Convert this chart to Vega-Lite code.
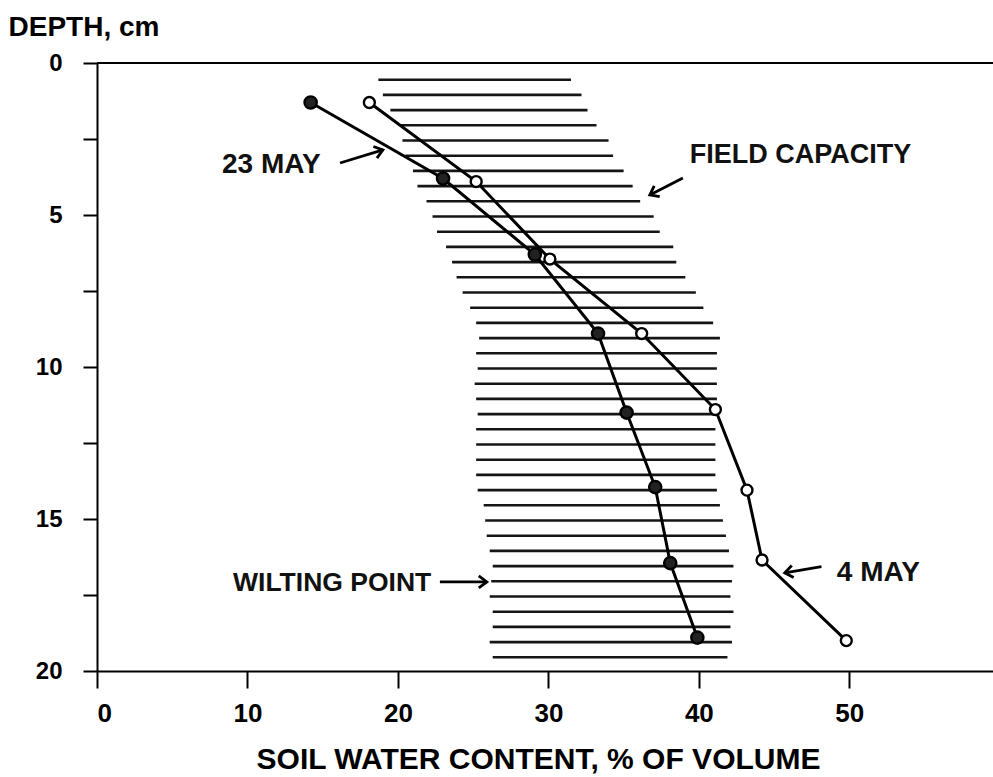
{
  "$schema": "https://vega.github.io/schema/vega-lite/v6.json",
  "autosize": {"type": "none"},
  "padding": {"left": 97, "top": 63, "right": 0, "bottom": 106},
  "width": 896,
  "height": 608,
  "background": "white",
  "config": {
    "view": {"stroke": null},
    "font": "Liberation Sans",
    "axis": {"domainColor": "black", "domainWidth": 2, "tickColor": "black", "tickWidth": 2, "grid": false, "labelColor": "black", "titleColor": "black", "labelFont": "Liberation Sans", "titleFont": "Liberation Sans", "labelFontWeight": "bold", "titleFontWeight": "bold"}
  },
  "datasets": {
    "band": [
      {"depth": 0.55, "wp": 18.7, "fc": 31.5},
      {"depth": 1.05, "wp": 19.0, "fc": 32.2},
      {"depth": 1.55, "wp": 19.5, "fc": 32.6},
      {"depth": 2.05, "wp": 20.2, "fc": 33.2},
      {"depth": 2.55, "wp": 20.3, "fc": 34.0},
      {"depth": 3.05, "wp": 20.5, "fc": 34.3},
      {"depth": 3.55, "wp": 21.0, "fc": 35.0},
      {"depth": 4.05, "wp": 21.3, "fc": 35.6},
      {"depth": 4.55, "wp": 21.9, "fc": 36.1},
      {"depth": 5.05, "wp": 22.3, "fc": 37.0},
      {"depth": 5.55, "wp": 22.6, "fc": 37.4},
      {"depth": 6.05, "wp": 23.2, "fc": 38.3},
      {"depth": 6.55, "wp": 23.6, "fc": 38.5},
      {"depth": 7.05, "wp": 23.9, "fc": 39.1},
      {"depth": 7.55, "wp": 24.3, "fc": 39.8},
      {"depth": 8.05, "wp": 24.8, "fc": 40.3},
      {"depth": 8.55, "wp": 25.2, "fc": 40.95},
      {"depth": 9.05, "wp": 25.4, "fc": 41.4},
      {"depth": 9.55, "wp": 25.2, "fc": 41.2},
      {"depth": 10.05, "wp": 25.3, "fc": 41.2},
      {"depth": 10.55, "wp": 25.1, "fc": 41.2},
      {"depth": 11.05, "wp": 25.2, "fc": 41.2},
      {"depth": 11.55, "wp": 25.3, "fc": 40.95},
      {"depth": 12.05, "wp": 25.2, "fc": 41.1},
      {"depth": 12.55, "wp": 25.2, "fc": 41.1},
      {"depth": 13.05, "wp": 25.2, "fc": 41.1},
      {"depth": 13.55, "wp": 25.2, "fc": 41.1},
      {"depth": 14.05, "wp": 25.3, "fc": 41.2},
      {"depth": 14.55, "wp": 25.7, "fc": 41.4},
      {"depth": 15.05, "wp": 25.8, "fc": 41.6},
      {"depth": 15.55, "wp": 25.9, "fc": 41.8},
      {"depth": 16.05, "wp": 26.1, "fc": 42.0},
      {"depth": 16.55, "wp": 26.3, "fc": 42.3},
      {"depth": 17.05, "wp": 26.2, "fc": 42.2},
      {"depth": 17.55, "wp": 26.1, "fc": 42.1},
      {"depth": 18.05, "wp": 26.3, "fc": 42.3},
      {"depth": 18.55, "wp": 26.3, "fc": 42.1},
      {"depth": 19.05, "wp": 26.1, "fc": 42.2},
      {"depth": 19.55, "wp": 26.3, "fc": 41.9}
    ],
    "profiles": [
      {"date": "23 May", "depth": 1.3, "swc": 14.2},
      {"date": "23 May", "depth": 3.8, "swc": 23.0},
      {"date": "23 May", "depth": 6.3, "swc": 29.1},
      {"date": "23 May", "depth": 8.9, "swc": 33.3},
      {"date": "23 May", "depth": 11.5, "swc": 35.2},
      {"date": "23 May", "depth": 13.95, "swc": 37.1},
      {"date": "23 May", "depth": 16.45, "swc": 38.1},
      {"date": "23 May", "depth": 18.9, "swc": 39.9},
      {"date": "4 May", "depth": 1.3, "swc": 18.1},
      {"date": "4 May", "depth": 3.9, "swc": 25.2},
      {"date": "4 May", "depth": 6.45, "swc": 30.1},
      {"date": "4 May", "depth": 8.9, "swc": 36.2},
      {"date": "4 May", "depth": 11.4, "swc": 41.1},
      {"date": "4 May", "depth": 14.05, "swc": 43.2},
      {"date": "4 May", "depth": 16.35, "swc": 44.2},
      {"date": "4 May", "depth": 19.0, "swc": 49.8}
    ],
    "arrows": [
      {"name": "23 MAY", "x1": 16.15, "y1": 3.29, "x2": 19.0, "y2": 2.86, "angle": 343},
      {"name": "FIELD CAPACITY", "x1": 38.94, "y1": 3.78, "x2": 36.74, "y2": 4.34, "angle": 153},
      {"name": "WILTING POINT", "x1": 22.79, "y1": 17.07, "x2": 25.91, "y2": 17.07, "angle": 0},
      {"name": "4 MAY", "x1": 48.15, "y1": 16.57, "x2": 45.71, "y2": 16.77, "angle": 171}
    ],
    "labels": [
      {"text": "23 MAY", "x": 8.31, "y": 3.36, "size": 28},
      {"text": "FIELD CAPACITY", "x": 39.4, "y": 3.03, "size": 27},
      {"text": "WILTING POINT", "x": 9.04, "y": 17.1, "size": 26.5},
      {"text": "4 MAY", "x": 49.17, "y": 16.76, "size": 28}
    ],
    "frame": [{"depth": 0}]
  },
  "layer": [
    {
      "data": {"name": "band"},
      "mark": {"type": "rule", "color": "#151515", "strokeWidth": 2.6},
      "encoding": {
        "x": {"field": "wp", "type": "quantitative", "scale": {"domain": [0, 59.55], "nice": false, "zero": false},
          "axis": {"values": [0, 10, 20, 30, 40, 50], "tickSize": 17, "labelPadding": 12, "labelFontSize": 26,
            "title": "SOIL WATER CONTENT,  % OF VOLUME", "titleFontSize": 30, "titleX": 441, "titleY": 97, "titleBaseline": "alphabetic", "titleAnchor": null, "titleAlign": "center"}},
        "x2": {"field": "fc"},
        "y": {"field": "depth", "type": "quantitative", "scale": {"domain": [0, 20], "reverse": true, "nice": false},
          "axis": {"values": [0, 2.5, 5, 7.5, 10, 12.5, 15, 17.5, 20], "labelExpr": "datum.value % 5 === 0 ? datum.label : ''", "tickSize": 14, "labelPadding": 21, "labelFontSize": 24,
            "title": "DEPTH, cm", "titleFontSize": 28, "titleAngle": 0, "titleAlign": "left", "titleBaseline": "alphabetic", "titleX": -89, "titleY": -28, "titleAnchor": null}}
      }
    },
    {
      "data": {"name": "frame"},
      "mark": {"type": "rule", "color": "black", "strokeWidth": 2},
      "encoding": {"y": {"field": "depth", "type": "quantitative"}}
    },
    {
      "data": {"name": "profiles"},
      "mark": {"type": "line", "color": "black", "strokeWidth": 3},
      "encoding": {
        "x": {"field": "swc", "type": "quantitative"},
        "y": {"field": "depth", "type": "quantitative"},
        "detail": {"field": "date"},
        "order": {"field": "depth", "type": "quantitative"}
      }
    },
    {
      "data": {"name": "profiles"},
      "mark": {"type": "point", "shape": "circle", "stroke": "black", "strokeWidth": 2.4, "opacity": 1, "filled": false},
      "encoding": {
        "x": {"field": "swc", "type": "quantitative"},
        "y": {"field": "depth", "type": "quantitative"},
        "fill": {"field": "date", "type": "nominal", "scale": {"domain": ["23 May", "4 May"], "range": ["#222222", "white"]}, "legend": null},
        "size": {"field": "date", "type": "nominal", "scale": {"domain": ["23 May", "4 May"], "range": [150, 120]}, "legend": null}
      }
    },
    {
      "data": {"name": "arrows"},
      "mark": {"type": "rule", "color": "black", "strokeWidth": 2.8},
      "encoding": {
        "x": {"field": "x1", "type": "quantitative"},
        "y": {"field": "y1", "type": "quantitative"},
        "x2": {"field": "x2"},
        "y2": {"field": "y2"}
      }
    },
    {
      "data": {"name": "arrows"},
      "mark": {"type": "point", "shape": "M-1,-0.75L0,0L-1,0.75", "filled": false, "stroke": "black", "strokeWidth": 2.8, "size": 260, "opacity": 1},
      "encoding": {
        "x": {"field": "x2", "type": "quantitative"},
        "y": {"field": "y2", "type": "quantitative"},
        "angle": {"field": "angle", "type": "quantitative", "scale": {"domain": [0, 360], "range": [0, 360]}}
      }
    },
    {
      "data": {"name": "labels"},
      "mark": {"type": "text", "align": "left", "baseline": "middle", "fontWeight": "bold", "font": "Liberation Sans", "color": "#111111"},
      "encoding": {
        "x": {"field": "x", "type": "quantitative"},
        "y": {"field": "y", "type": "quantitative"},
        "text": {"field": "text"},
        "size": {"field": "size", "type": "quantitative", "scale": null}
      }
    }
  ]
}
